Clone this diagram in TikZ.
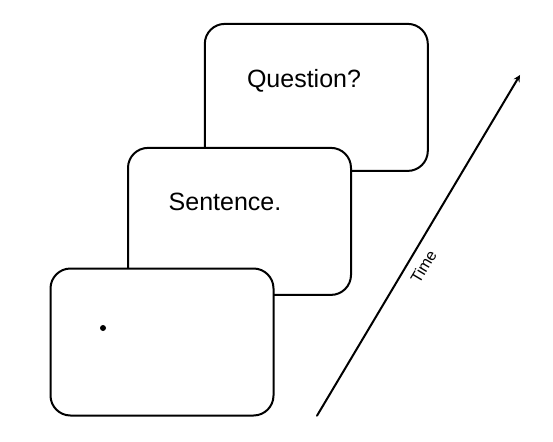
\documentclass[tikz,border=0pt]{standalone}
\usepackage{fontspec}
\setmainfont{Liberation Sans}
\begin{document}
\begin{tikzpicture}[>=stealth,line join=round,line cap=round,x=1pt,y=-1pt,
		screen/.style={draw,fill=white,line width=2pt,rounded corners=20pt,minimum width=223pt,minimum height=147pt,inner sep=0pt},
		font=\fontsize{25}{30}\selectfont]
				\useasboundingbox (0,0) rectangle (553,441);
				\foreach\n/\x/\y in {question/316.3/97.4,sentence/239.5/221.4,fixation/162/342}
				\node[screen] (\n) at (\x,\y) {};
				\node[anchor=base] (qtext) at (304,88) {Question?};
				\node[anchor=base] (stext) at (225,210) {Sentence.};
				\node[circle,fill,inner sep=0pt,minimum size=6pt] (dot) at (103,328) {};
				\path
				(317,415.7) coordinate (T0)
				(520,75) coordinate (T1)
				;
				\draw[->,line width=2pt] (T0)--(T1) node[pos=0.46,sloped,below=5pt,font=\fontsize{16}{19}\selectfont] (tlabel) {Time};
	\end{tikzpicture}
\end{document}
